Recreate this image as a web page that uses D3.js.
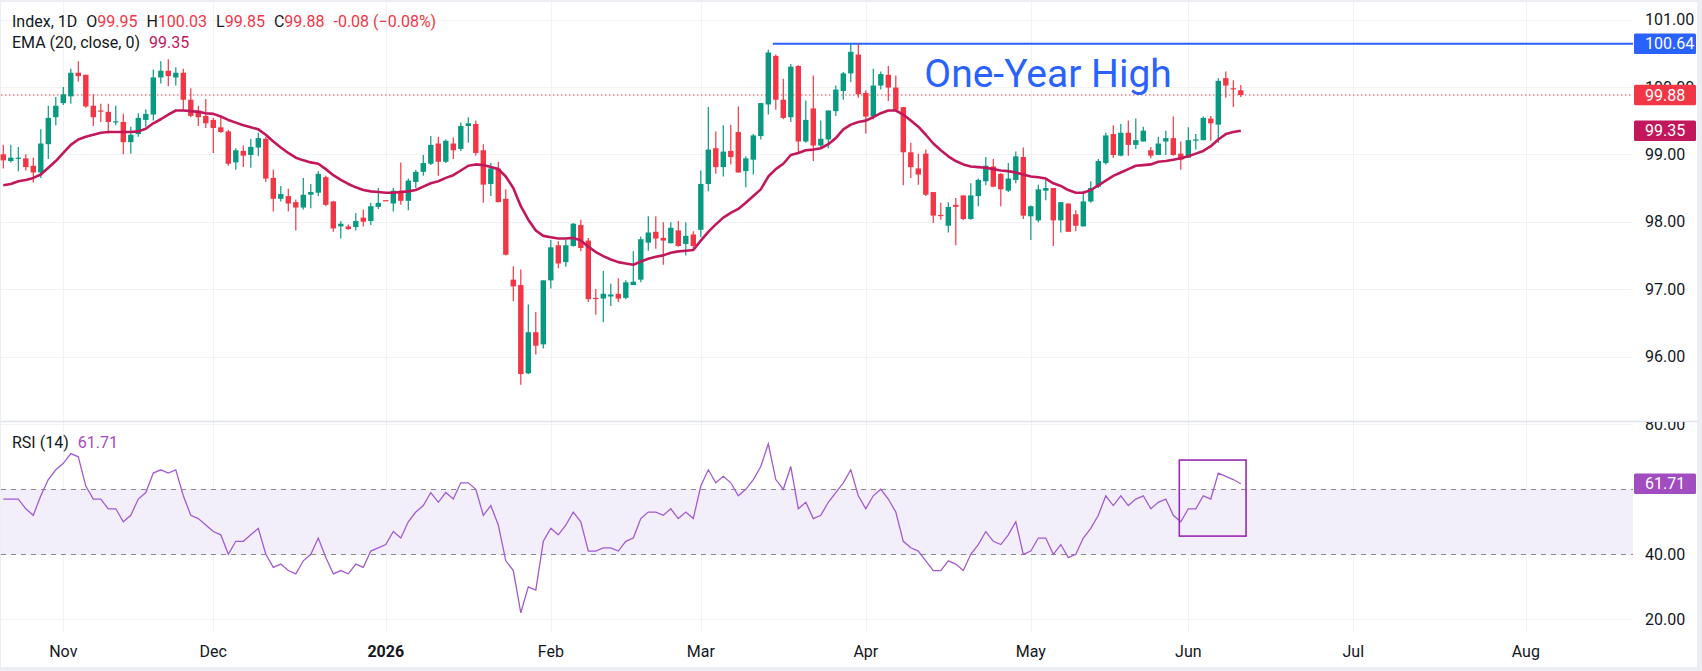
<!DOCTYPE html>
<html>
<head>
<meta charset="utf-8">
<script src="https://cdn.jsdelivr.net/npm/d3@7"></script>
<style>
html, body { margin: 0; padding: 0; background: #eceef3; }
svg { display: block; font-family: Roboto, "Noto Sans", sans-serif; }
</style>
</head>
<body>
<div id="chart"></div>
<script>
// daily bars, one per weekday starting Oct 22 2025
const open = [99.00,98.90,98.94,98.94,98.83,98.73,99.15,99.55,99.76,99.86,100.21,100.18,99.72,99.65,99.63,99.48,99.48,99.18,99.30,99.51,
  99.59,100.14,100.24,100.14,100.21,99.81,99.65,99.57,99.51,99.40,99.34,98.88,99.05,98.99,99.10,99.23,98.65,98.34,98.38,98.29,
  98.21,98.40,98.43,98.66,98.30,97.93,97.93,97.92,98.06,98.01,98.22,98.32,98.27,98.46,98.31,98.59,98.74,98.86,99.16,98.89,
  99.16,99.08,99.42,99.45,99.06,98.56,98.79,98.34,97.14,97.06,95.75,96.36,96.18,97.13,97.65,97.40,97.64,97.95,97.72,96.87,
  96.86,96.89,96.93,96.87,97.06,97.14,97.69,97.85,97.76,97.68,97.87,97.67,97.81,97.88,98.56,99.09,98.81,99.05,99.33,98.75,
  98.92,99.27,99.74,100.46,99.81,99.55,100.31,99.19,99.68,99.13,99.22,99.64,99.94,100.20,100.48,99.91,99.56,100.02,100.18,99.99,
  99.70,99.03,98.79,99.01,98.44,98.10,97.94,98.25,98.39,98.04,98.38,98.60,98.82,98.71,98.46,98.62,98.96,98.08,98.02,98.46,
  98.50,98.02,98.27,98.11,97.93,98.30,98.52,98.87,99.30,98.98,99.32,99.14,99.19,99.06,98.99,99.19,99.24,99.01,98.95,99.21,
  99.21,99.53,99.44,100.13,99.98,99.95];
const high = [99.14,99.14,99.11,99.00,98.95,99.37,99.72,99.85,100.00,100.27,100.38,100.18,99.89,99.75,99.75,99.72,99.60,99.41,99.61,99.67,
  100.26,100.38,100.41,100.29,100.27,99.98,99.72,99.82,99.54,99.54,99.36,99.09,99.13,99.23,99.32,99.26,98.77,98.53,98.49,98.33,
  98.65,98.56,98.75,98.68,98.31,98.01,97.96,98.13,98.18,98.28,98.50,98.32,98.50,98.88,98.64,98.77,98.99,99.27,99.26,99.22,
  99.25,99.47,99.55,99.50,99.15,98.87,98.89,98.48,97.34,97.29,96.77,96.66,97.13,97.73,97.71,97.73,97.98,98.03,97.76,97.00,
  97.27,97.08,97.16,97.13,97.56,97.78,98.08,98.08,97.99,97.99,98.01,97.99,97.86,98.76,99.70,99.34,99.43,99.44,99.71,98.97,
  99.30,99.76,100.55,100.48,100.12,100.34,100.32,99.80,100.17,99.50,99.65,100.02,100.22,100.64,100.64,99.95,100.27,100.23,100.31,100.17,
  99.70,99.17,99.01,99.07,98.44,98.28,98.29,98.35,98.39,98.57,98.64,98.96,98.93,98.72,98.87,99.04,99.10,98.24,98.55,98.62,
  98.50,98.29,98.27,98.17,98.46,98.60,98.93,99.32,99.43,99.45,99.50,99.53,99.41,99.11,99.26,99.35,99.56,99.19,99.40,99.30,
  99.56,99.57,100.13,100.23,100.10,100.03];
const low = [98.79,98.88,98.75,98.76,98.58,98.65,98.93,99.43,99.73,99.75,100.08,99.69,99.42,99.48,99.31,99.43,99.00,99.01,99.26,99.41,
  99.50,100.05,100.01,100.02,99.66,99.55,99.42,99.39,99.02,99.32,98.83,98.77,98.81,98.80,98.97,98.59,98.15,98.30,98.15,97.87,
  98.18,98.20,98.38,98.23,97.85,97.75,97.88,97.87,97.93,97.95,98.19,98.31,98.15,98.25,98.17,98.50,98.68,98.84,98.68,98.87,
  98.93,99.05,99.17,98.98,98.28,98.38,98.29,97.50,96.82,95.58,95.74,96.03,96.12,97.01,97.31,97.33,97.63,97.56,96.81,96.62,
  96.51,96.75,96.81,96.85,97.06,97.10,97.57,97.60,97.36,97.68,97.63,97.50,97.58,97.77,98.45,98.71,98.67,98.85,98.73,98.51,
  98.70,99.22,99.59,99.66,99.52,99.48,99.03,99.17,98.90,99.08,99.09,99.57,99.81,100.07,99.84,99.31,99.52,99.96,99.79,99.64,
  98.54,98.65,98.55,98.38,97.98,98.03,97.84,97.65,98.02,98.03,98.23,98.54,98.51,98.23,98.44,98.57,98.04,97.73,97.99,98.32,
  97.64,97.84,97.85,97.86,97.93,98.28,98.50,98.85,98.95,98.97,98.98,99.08,99.19,98.94,98.99,98.99,98.98,98.77,98.95,99.07,
  99.21,99.20,99.17,99.84,99.70,99.85];
const close = [98.91,98.95,98.95,98.81,98.73,99.16,99.54,99.72,99.89,100.21,100.16,99.71,99.55,99.64,99.48,99.49,99.18,99.29,99.54,99.60,
  100.14,100.24,100.16,100.21,99.81,99.57,99.55,99.46,99.39,99.33,98.86,99.06,98.98,99.11,99.24,98.64,98.34,98.41,98.27,98.21,
  98.40,98.44,98.71,98.25,97.90,97.97,97.89,98.01,98.00,98.23,98.28,98.31,98.46,98.31,98.61,98.74,98.87,99.14,98.89,99.20,
  99.06,99.42,99.46,99.02,98.55,98.79,98.29,97.51,97.04,95.74,96.36,96.16,97.13,97.62,97.38,97.65,97.97,97.61,96.85,96.86,
  96.93,96.92,96.86,97.10,97.11,97.74,97.84,97.75,97.72,97.91,97.64,97.79,97.64,98.56,99.07,98.81,99.04,98.96,98.73,98.94,
  99.28,99.76,100.51,99.81,99.54,100.30,99.19,99.51,99.13,99.23,99.65,99.96,100.20,100.52,99.89,99.56,100.02,100.19,99.99,99.66,
  99.03,98.81,98.70,98.40,98.09,98.09,98.22,98.22,98.04,98.39,98.62,98.83,98.52,98.48,98.64,98.97,98.09,98.23,98.48,98.50,
  98.02,98.29,97.85,97.94,98.30,98.50,98.90,99.28,98.99,99.32,99.14,99.21,99.35,98.98,99.16,99.24,98.99,98.92,99.21,99.22,
  99.54,99.46,100.09,100.02,99.97,99.88];
const ema20 = [98.54,98.56,98.60,98.62,98.65,98.70,98.80,98.90,99.02,99.14,99.22,99.26,99.29,99.32,99.33,99.33,99.33,99.33,99.34,99.38,
  99.46,99.52,99.59,99.65,99.65,99.64,99.63,99.61,99.60,99.56,99.51,99.47,99.43,99.40,99.37,99.29,99.19,99.10,99.02,98.95,
  98.91,98.88,98.86,98.78,98.69,98.62,98.56,98.51,98.47,98.45,98.44,98.43,98.43,98.44,98.45,98.47,98.52,98.57,98.60,98.65,
  98.69,98.76,98.83,98.85,98.84,98.81,98.78,98.67,98.50,98.23,98.03,97.87,97.79,97.77,97.75,97.75,97.76,97.72,97.63,97.55,
  97.49,97.44,97.40,97.38,97.36,97.41,97.45,97.48,97.50,97.54,97.56,97.57,97.58,97.72,97.85,97.96,98.06,98.13,98.19,98.28,
  98.38,98.48,98.67,98.78,98.86,98.99,99.02,99.06,99.07,99.09,99.15,99.24,99.37,99.44,99.48,99.50,99.55,99.61,99.65,99.65,
  99.59,99.50,99.41,99.29,99.16,99.06,98.97,98.90,98.85,98.82,98.81,98.80,98.78,98.76,98.75,98.73,98.70,98.67,98.66,98.64,
  98.57,98.53,98.47,98.43,98.43,98.47,98.54,98.61,98.68,98.73,98.78,98.83,98.84,98.85,98.89,98.90,98.92,98.94,98.97,99.01,
  99.05,99.12,99.22,99.30,99.33,99.35];
const rsi14 = [57,57,57,54,52,58,63,66,68,71,70,61,57,57,54,54,50,52,57,59,
  65,66,65,66,58,52,51,49,47,46,40,44,44,46,48,40,36,37,35,34,
  38,40,45,39,34,35,34,37,36,41,42,43,47,45,50,53,55,59,56,59,
  57,62,62,60,52,55,49,38,35,22,30,29,44,48,46,49,53,50,41,41,
  42,42,41,44,45,51,53,53,52,54,51,53,51,61,66,62,64,62,58,60,
  63,67,74,63,60,67,54,56,51,52,56,59,62,66,58,54,58,60,57,53,
  44,42,41,38,35,35,38,37,35,40,43,47,44,43,46,50,40,41,45,45,
  40,43,39,40,45,48,52,58,55,58,55,57,58,54,56,57,52,50,54,54,
  58,57,65,64,63,61.71];

const monthLabels = ["Nov", "Dec", "2026", "Feb", "Mar", "Apr", "May", "Jun", "Jul", "Aug"];
const priceTicks = [101, 100, 99, 98, 97, 96];
const rsiTicks = [80, 60, 40, 20];
const yearHigh = 100.64;

// weekday calendar
const days = [];
for (let d = new Date(2025, 9, 22); d <= new Date(2026, 7, 31); d.setDate(d.getDate() + 1)) {
  if (d.getDay() !== 0 && d.getDay() !== 6) days.push(new Date(d));
}
const monthStarts = [];
days.forEach((d, i) => { if (i > 0 && d.getMonth() !== days[i - 1].getMonth()) monthStarts.push(i); });

const W = 1702, H = 671;
const plotRight = 1633;
const mainTop = 2, mainBottom = 421, rsiBottom = 627;

const svg = d3.select("#chart").append("svg").attr("width", W).attr("height", H);
svg.append("rect").attr("x", 1).attr("y", 2).attr("width", 1696).attr("height", 665).attr("fill", "#fff");

const x = d3.scaleLinear().domain([0, 217]).range([3.3, 3.3 + 7.5 * 217]);
const y = d3.scaleLinear().domain([96, 101]).range([356.5, 19.5]);
const yr = d3.scaleLinear().domain([20, 80]).range([619.3, 424.3]);

const grid = svg.append("g").attr("stroke", "#f0f2f6").attr("stroke-width", 1);
monthStarts.forEach(i => grid.append("line").attr("x1", Math.round(x(i)) + 0.5).attr("x2", Math.round(x(i)) + 0.5)
  .attr("y1", mainTop).attr("y2", rsiBottom + 5));
priceTicks.forEach(v => grid.append("line").attr("x1", 1).attr("x2", plotRight)
  .attr("y1", Math.round(y(v)) + 0.5).attr("y2", Math.round(y(v)) + 0.5));
rsiTicks.forEach(v => grid.append("line").attr("x1", 1).attr("x2", plotRight)
  .attr("y1", Math.round(yr(v)) + 0.5).attr("y2", Math.round(yr(v)) + 0.5));

// pane separator
svg.append("line").attr("x1", 1).attr("x2", 1697).attr("y1", mainBottom + 0.5).attr("y2", mainBottom + 0.5)
  .attr("stroke", "#e0e3eb").attr("stroke-width", 1.5);

// last close dotted line
svg.append("line").attr("x1", 1).attr("x2", plotRight).attr("y1", y(close[close.length - 1])).attr("y2", y(close[close.length - 1]))
  .attr("stroke", "#f23645").attr("stroke-width", 1).attr("stroke-dasharray", "1.5 2.5");

// one-year-high line
svg.append("line").attr("x1", x(102.6)).attr("x2", plotRight).attr("y1", y(yearHigh)).attr("y2", y(yearHigh))
  .attr("stroke", "#2962ff").attr("stroke-width", 2);
svg.append("text").attr("x", x(122.8)).attr("y", y(100.0)).attr("fill", "#2962ff")
  .attr("font-size", 39).text("One-Year High");

// candles
const idx = d3.range(close.length);
const col = i => close[i] >= open[i] ? "#089981" : "#f23645";
const candles = svg.append("g");
candles.selectAll("line").data(idx).join("line")
  .attr("x1", i => x(i)).attr("x2", i => x(i))
  .attr("y1", i => y(high[i])).attr("y2", i => y(low[i]))
  .attr("stroke", col).attr("stroke-width", 1.2);
candles.selectAll("rect").data(idx).join("rect")
  .attr("x", i => x(i) - 2.7).attr("width", 5.4)
  .attr("y", i => y(Math.max(open[i], close[i])))
  .attr("height", i => Math.max(1.2, Math.abs(y(open[i]) - y(close[i]))))
  .attr("fill", col);

// EMA
svg.append("path").datum(idx)
  .attr("d", d3.line().x(i => x(i)).y(i => y(ema20[i])))
  .attr("fill", "none").attr("stroke", "#c2185b").attr("stroke-width", 2.6).attr("stroke-linejoin", "round");

// RSI pane
svg.append("rect").attr("x", 1).attr("width", plotRight - 1).attr("y", yr(60)).attr("height", yr(40) - yr(60))
  .attr("fill", "#f2eefa");
[60, 40].forEach(v => svg.append("line").attr("x1", 1).attr("x2", plotRight)
  .attr("y1", Math.round(yr(v)) + 0.5).attr("y2", Math.round(yr(v)) + 0.5)
  .attr("stroke", "#868993").attr("stroke-dasharray", "5 5"));
svg.append("path").datum(idx)
  .attr("d", d3.line().x(i => x(i)).y(i => yr(rsi14[i])))
  .attr("fill", "none").attr("stroke", "#a35bd1").attr("stroke-width", 1.3);
svg.append("rect").attr("x", x(156.8)).attr("y", yr(69)).attr("width", x(165.7) - x(156.8)).attr("height", yr(45.6) - yr(69))
  .attr("fill", "none").attr("stroke", "#9c27b0").attr("stroke-width", 1.6);

// axes text
const axisText = svg.append("g").attr("font-size", 16).attr("fill", "#131722");
priceTicks.forEach(v => axisText.append("text").attr("x", 1645).attr("y", y(v)).attr("dy", "0.35em").text(v.toFixed(2)));
svg.append("clipPath").attr("id", "rsiClip").append("rect").attr("x", 0).attr("y", mainBottom + 1).attr("width", W).attr("height", 250);
rsiTicks.filter(v => v !== 60).forEach(v => axisText.append("text").attr("clip-path", "url(#rsiClip)")
  .attr("x", 1645).attr("y", yr(v)).attr("dy", "0.35em").text(v.toFixed(2)));
monthStarts.forEach((i, k) => axisText.append("text").attr("x", x(i)).attr("y", 651).attr("dy", "0.35em")
  .attr("text-anchor", "middle").attr("font-weight", monthLabels[k] === "2026" ? "bold" : null).text(monthLabels[k]));

// price labels on the axis
function tag(val, yy, color, txt) {
  svg.append("rect").attr("x", 1634).attr("y", yy - 10.2).attr("width", 62).attr("height", 20.4).attr("rx", 1.5).attr("fill", color);
  svg.append("text").attr("x", 1645).attr("y", yy).attr("dy", "0.35em").attr("font-size", 16).attr("fill", "#fff").text(txt);
}
tag(yearHigh, y(yearHigh), "#2962ff", yearHigh.toFixed(2));
tag(close[close.length - 1], y(close[close.length - 1]), "#f23645", close[close.length - 1].toFixed(2));
tag(ema20[ema20.length - 1], y(ema20[ema20.length - 1]), "#c2185b", ema20[ema20.length - 1].toFixed(2));
tag(rsi14[rsi14.length - 1], yr(rsi14[rsi14.length - 1]), "#a24cc2", rsi14[rsi14.length - 1].toFixed(2));

// legends
const n = close.length - 1;
const leg = svg.append("g").attr("font-size", 16);
const row1 = leg.append("text").attr("x", 12).attr("y", 26.5).attr("fill", "#131722");
row1.append("tspan").text("Index, 1D");
[["O", open[n]], ["H", high[n]], ["L", low[n]], ["C", close[n]]].forEach(([k, v]) => {
  row1.append("tspan").attr("dx", 9).text(k);
  row1.append("tspan").attr("fill", "#f23645").text(v.toFixed(2));
});
row1.append("tspan").attr("dx", 9).attr("fill", "#f23645").text("-0.08 (\u22120.08%)");
const row2 = leg.append("text").attr("x", 12).attr("y", 47.5).attr("fill", "#131722");
row2.append("tspan").text("EMA (20, close, 0)");
row2.append("tspan").attr("dx", 9).attr("fill", "#c2185b").text(ema20[n].toFixed(2));
const row3 = leg.append("text").attr("x", 12).attr("y", 447.5).attr("fill", "#131722");
row3.append("tspan").text("RSI (14)");
row3.append("tspan").attr("dx", 9).attr("fill", "#a24cc2").text(rsi14[n].toFixed(2));
</script>
</body>
</html>
